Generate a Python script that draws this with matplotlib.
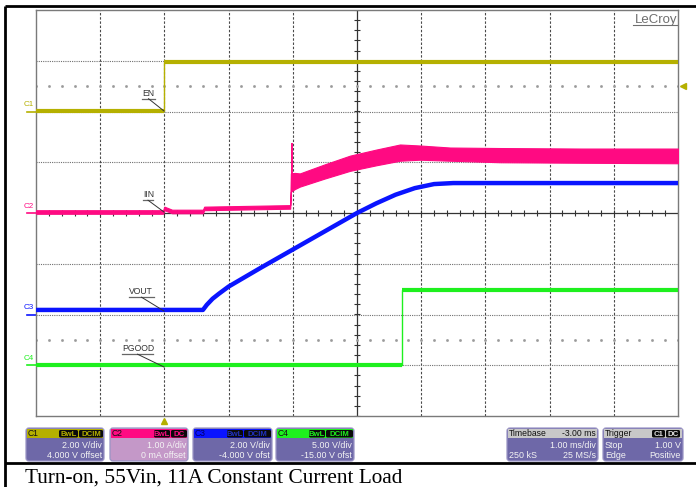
import numpy as np
import matplotlib.pyplot as plt
from matplotlib.patches import FancyBboxPatch, Rectangle

# channel setup: units per division and offset
ch_names = ["C1", "C2", "C3", "C4"]
ch_scale = [2.0, 1.0, 2.0, 5.0]
ch_offset = [4.0, 0.0, -4.0, -15.0]
ch_colors = ["#b5b000", "#ff0a82", "#0a14ff", "#1ef01e"]

# C1 - EN (V) vs time (ms)
en_t = [-2.0, 0.0, 0.0, 8.0]
en_v = [0.02, 0.02, 1.95, 1.95]

# C2 - IIN (A), ripple envelope
iin_t = [-2.0, -0.02, 0.0, 0.12, 0.6, 0.62, 1.96, 1.97, 2.03, 2.11, 2.5, 2.89,
         3.3, 3.67, 3.98, 4.45, 5.23, 6.5, 8.0]
iin_lo = [-0.015, -0.015, 0.055, -0.005, -0.005, 0.055, 0.085, 0.42, 0.47, 0.52,
          0.68, 0.83, 0.94, 1.03, 1.05, 1.03, 1.00, 0.99, 0.98]
iin_hi = [0.055, 0.055, 0.125, 0.065, 0.065, 0.125, 0.155, 0.78, 0.79, 0.78,
          0.96, 1.13, 1.25, 1.35, 1.33, 1.29, 1.28, 1.27, 1.27]
iin_spike_t = 1.985
iin_spike = [0.45, 1.36]

# C3 - VOUT (V)
vout_t = [-2.0, 0.60, 0.66, 0.75, 0.85, 1.0, 1.5, 2.0, 2.5, 3.0, 3.3, 3.6,
          3.9, 4.2, 4.5, 8.0]
vout_v = [0.18, 0.18, 0.38, 0.62, 0.82, 1.1, 1.84, 2.56, 3.28, 4.0, 4.38, 4.72,
          4.98, 5.14, 5.18, 5.18]

# C4 - PGOOD (V)
pg_t = [-2.0, 3.70, 3.70, 8.0]
pg_v = [0.0, 0.0, 7.4, 7.4]

trig_level = 1.0


def to_div(vals, ch):
    return (np.asarray(vals) + ch_offset[ch]) / ch_scale[ch]


fig = plt.figure(figsize=(6.96, 4.87), dpi=100)
fig.patch.set_facecolor("white")

# scope screen: 10 x 8 divisions, x in ms
ax = fig.add_axes([36 / 696, (487 - 416) / 487, 642 / 696, 406 / 487])
ax.set_xlim(-2, 8)
ax.set_ylim(-4, 4)
ax.set_xticks([])
ax.set_yticks([])
for s in ax.spines.values():
    s.set_color("#7a7a7a")
    s.set_linewidth(1.0)

# graticule
for t in range(-1, 8):
    if t != 3:
        ax.axvline(t, color="#4a4a4a", lw=0.8, ls=(0, (2.2, 1.6)), zorder=1)
for d in range(-3, 4):
    if d != 0:
        ax.axhline(d, color="#707070", lw=0.8, ls=(0, (1, 1)), zorder=1)
ax.axvline(3, color="#333333", lw=0.9, zorder=1)
ax.axhline(0, color="#333333", lw=0.9, zorder=1)
xt = np.arange(-2, 8.001, 0.2)
yt = np.arange(-4, 4.001, 0.2)
ax.vlines(xt, -0.06, 0.06, color="#333333", lw=0.8, zorder=1)
ax.hlines(yt, 2.95, 3.05, color="#333333", lw=0.8, zorder=1)
for d in (2.5, -2.5):
    ax.plot(xt, np.full_like(xt, d), ls="none", marker="s", ms=0.9,
            color="#9a9a9a", zorder=1)

# traces
c = ch_colors
en = to_div(en_v, 0)
ax.plot(en_t, en, color=c[0], lw=1.0, zorder=3)
ax.plot(en_t[:2], en[:2], color=c[0], lw=3.0, solid_capstyle="butt", zorder=3)
ax.plot(en_t[2:], en[2:], color=c[0], lw=3.0, solid_capstyle="butt", zorder=3)

ax.fill_between(iin_t, to_div(iin_lo, 1), to_div(iin_hi, 1), color=c[1],
                lw=0.8, edgecolor=c[1], zorder=3)
ax.plot([iin_spike_t, iin_spike_t], to_div(iin_spike, 1), color=c[1], lw=1.4,
        zorder=3)

ax.plot(vout_t, to_div(vout_v, 2), color=c[2], lw=3.2, zorder=4)

pg = to_div(pg_v, 3)
ax.plot(pg_t, pg, color=c[3], lw=1.0, zorder=3)
ax.plot(pg_t[:2], pg[:2], color=c[3], lw=3.0, solid_capstyle="butt", zorder=3)
ax.plot(pg_t[2:], pg[2:], color=c[3], lw=3.0, solid_capstyle="butt", zorder=3)

# channel ground markers on the left edge
for i, name in enumerate(ch_names):
    g = ch_offset[i] / ch_scale[i]
    ax.plot([-2.14, -2.0], [g, g], color=c[i], lw=1.2, clip_on=False)
    ax.text(-2.03, g + 0.06, name, color=c[i], fontsize=5.8, ha="right",
            va="bottom", family="Liberation Sans", clip_on=False)

# trigger time and level markers
ax.plot([0], [-4.1], marker="^", ms=5, color=c[0], clip_on=False)
ax.plot([8.08], [to_div(trig_level, 0)], marker="<", ms=5, color=c[0],
        clip_on=False)

# overlay in pixel coordinates for labels, panels and caption
ov = fig.add_axes([0, 0, 1, 1], zorder=5)
ov.set_xlim(0, 696)
ov.set_ylim(487, 0)
ov.axis("off")

sans = "Liberation Sans"


def tag(label, tx, ty, w, px, py):
    ov.text(tx, ty, label, fontsize=6.2, color="#333333", family=sans,
            ha="left", va="bottom")
    ov.plot([tx, tx + w], [ty + 1.2, ty + 1.2], color="#666666", lw=0.9)
    ov.plot([tx + w * 0.5, px], [ty + 1.2, py], color="#333333", lw=0.7)


tag("EN", 142, 97.5, 13, 164, 111)
tag("IIN", 143, 199, 10, 164, 212)
tag("VOUT", 129, 296, 25, 164, 311)
tag("PGOOD", 122, 353, 31, 164, 367)

ov.text(677, 23, "LeCroy", fontsize=9.5, color="#6e6e6e", family=sans,
        ha="right", va="baseline")
ov.plot([633, 677], [24.8, 24.8], color="#6e6e6e", lw=0.8)

# info panels
body = "#6e68a8"
y0, y1, yh = 428, 461, 438


def panel(x0, x1, head, bg, left_head, right_head, rows, head_txt="#111111",
          tags=None):
    ov.add_patch(FancyBboxPatch((x0, y0), x1 - x0, y1 - y0,
                                boxstyle="round,pad=0,rounding_size=3",
                                fc=bg, ec="#9a94c4", lw=0.9))
    ov.add_patch(Rectangle((x0 + 1.2, y0 + 1.2), x1 - x0 - 2.4, yh - y0 - 1.2,
                           fc=head, ec="none"))
    if left_head:
        ov.text(x0 + 2, (y0 + yh) / 2 + 0.6, left_head, fontsize=6.2,
                color=head_txt, family=sans, ha="left", va="center")
    if right_head:
        ov.text(x1 - 2, (y0 + yh) / 2 + 0.6, right_head, fontsize=6.2,
                color="#111111", family=sans, ha="right", va="center")
    for (tx0, tx1, txt, tc) in (tags or []):
        ov.add_patch(FancyBboxPatch((tx0, y0 + 2), tx1 - tx0, 7.5,
                                    boxstyle="round,pad=0,rounding_size=1.5",
                                    fc="#0a0a0a", ec="none"))
        ov.text((tx0 + tx1) / 2, y0 + 6.2, txt, fontsize=5.6, color=tc,
                family=sans, ha="center", va="center", weight="bold")
    for k, (lt, rt) in enumerate(rows):
        yy = 445.5 + 10 * k
        if lt:
            ov.text(x0 + 2, yy, lt, fontsize=6.4, color="#f4f4f4",
                    family=sans, ha="left", va="center")
        if rt:
            ov.text(x1 - 2, yy, rt, fontsize=6.4, color="#f4f4f4",
                    family=sans, ha="right", va="center")


panel(26, 104, c[0], body, "C1", None,
      [(None, "2.00 V/div"), (None, "4.000 V offset")],
      tags=[(59, 78, "BwL", c[0]), (79, 103, "DCIM", c[0])])
panel(110, 188, c[1], "#c498c8", "C2", None,
      [(None, "1.00 A/div"), (None, "0 mA offset")],
      tags=[(154, 170, "BwL", c[1]), (171, 187, "DC", c[1])])
panel(193, 272, c[2], body, "C3", None,
      [(None, "2.00 V/div"), (None, "-4.000 V ofst")], head_txt="#000066",
      tags=[(227, 243, "BwL", "#2030c0"), (244, 271, "DCIM", "#2030c0")])
panel(276, 354, c[3], body, "C4", None,
      [(None, "5.00 V/div"), (None, "-15.00 V ofst")],
      tags=[(309, 325, "BwL", c[3]), (326, 353, "DCIM", c[3])])
panel(507, 598, "#c8c8c8", body, "Timebase", "-3.00 ms",
      [(None, "1.00 ms/div"), ("250 kS", "25 MS/s")])
panel(603, 683, "#c8c8c8", body, "Trigger", None,
      [("Stop", "1.00 V"), ("Edge", "Positive")],
      tags=[(652, 665, "C1", "#e0e0e0"), (666, 680, "DC", "#e0e0e0")])

# page frame and caption
ov.plot([5, 696], [6, 6], color="black", lw=2.0, solid_capstyle="butt")
ov.plot([5, 5], [6, 487], color="black", lw=2.0, solid_capstyle="butt")
ov.plot([5, 696], [463, 463], color="black", lw=2.0, solid_capstyle="butt")
ov.text(25, 483, "Turn-on, 55Vin, 11A Constant Current Load", fontsize=15.3,
        family="Liberation Serif", color="black", ha="left", va="baseline")

fig.savefig("out.png", dpi=100)
